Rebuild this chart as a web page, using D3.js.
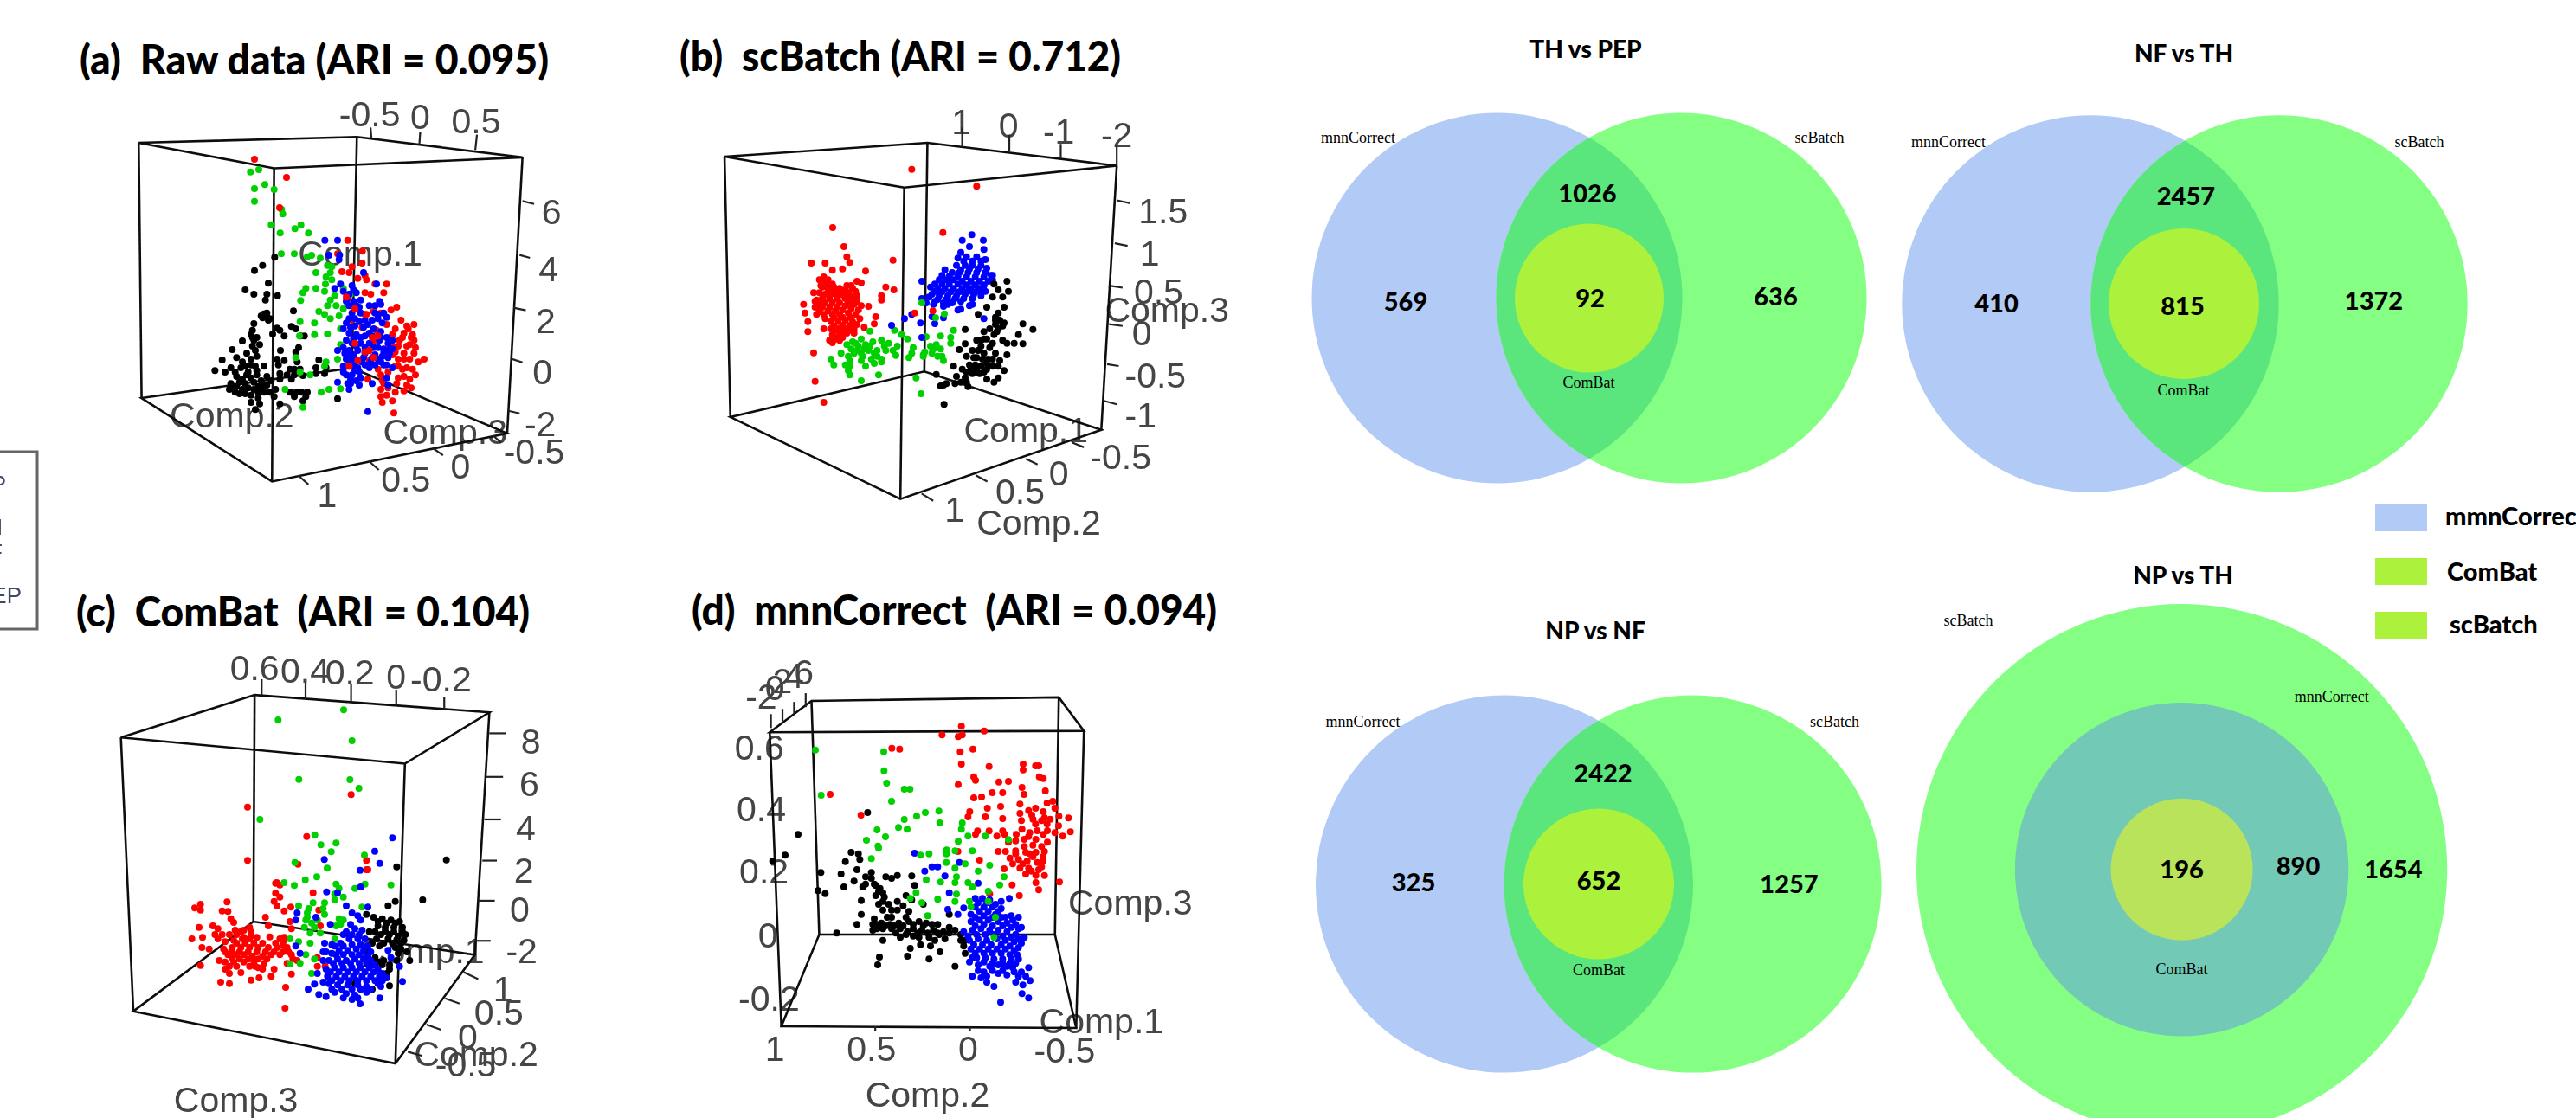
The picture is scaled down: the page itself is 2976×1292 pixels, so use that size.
<!DOCTYPE html>
<html>
<head>
<meta charset="utf-8">
<title>Batch correction panels</title>
<script src="https://cdn.jsdelivr.net/npm/d3@7"></script>
<style>
html, body { margin: 0; padding: 0; background: #fff; overflow: hidden; }
svg { display: block; }
</style>
</head>
<body>
<div id="chart"></div>
<script>
// Scatter values: projected position of each cell in its panel,
// in units of a 3x reading of the plot area (see panels below).

var rawBlack = [[232,22],[190,50],[162,68],[210,112],[130,135],[160,150],[242,155],[205,150],[200,170],[297,208],[195,218],[205,228],[210,240],[190,232],[160,252],[155,275],[155,300],[240,268],[250,275],[290,262],[305,270],[225,288],[265,295],[322,295],[335,295],[120,312],[160,310],[180,325],[315,335],[305,350],[85,342],[252,345],[170,365],[150,375],[100,370],[120,385],[50,378],[240,375],[265,380],[310,385],[385,378],[375,405],[410,405],[25,415],[60,420],[95,420],[130,400],[165,400],[195,400],[245,395],[285,410],[300,430],[330,432],[375,425],[405,425],[100,435],[135,430],[170,430],[205,435],[250,425],[80,460],[100,470],[130,460],[160,455],[185,450],[220,450],[250,445],[290,445],[75,480],[95,490],[120,480],[160,480],[190,470],[235,480],[290,490],[345,490],[150,525],[175,510],[195,490],[230,505],[250,530],[310,490],[340,505],[330,520],[180,530],[165,550],[450,512],[140,420],[170,415],[150,440],[120,445],[110,455],[175,470],[140,475],[85,470],[110,495],[150,500],[130,495],[175,490],[205,465],[215,490],[155,330],[165,345],[135,355],[150,395],[115,405],[80,405],[275,430],[300,410],[320,410],[285,490],[300,505],[325,490],[205,215],[185,225],[215,235],[150,290],[170,300]];
var rawGreen = [[148,-274],[177,-282],[162,-216],[198,-230],[230,-213],[162,-172],[256,-144],[260,-128],[220,-91],[251,-62],[302,-77],[323,-90],[349,-62],[255,10],[300,10],[345,20],[375,75],[415,50],[425,75],[408,115],[375,130],[340,130],[330,145],[322,172],[405,140],[440,155],[425,170],[415,190],[385,210],[405,220],[425,235],[455,225],[320,245],[370,250],[318,295],[370,290],[415,288],[460,270],[500,240],[460,325],[450,375],[410,385],[405,400],[305,370],[320,420],[355,430],[268,480],[393,490],[420,480],[460,478],[330,542],[470,130],[495,150],[390,25],[360,15],[430,55],[410,90],[430,100],[445,190],[470,200]];
var rawRed = [[162,-318],[273,-255],[249,-150],[485,-37],[536,1],[450,10],[500,55],[535,42],[465,72],[545,85],[520,95],[490,75],[550,100],[620,115],[580,115],[610,145],[545,145],[565,150],[485,165],[510,200],[655,195],[635,205],[575,210],[545,220],[670,240],[600,215],[715,255],[690,260],[620,255],[650,270],[640,290],[680,285],[710,290],[715,310],[665,310],[640,330],[700,325],[650,350],[680,355],[715,355],[630,360],[660,375],[700,375],[750,375],[730,385],[650,400],[690,405],[720,430],[680,435],[660,440],[700,445],[510,320],[560,345],[545,350],[560,380],[520,380],[590,410],[600,430],[555,445],[490,400],[605,450],[600,480],[625,475],[600,505],[605,525],[640,520],[650,490],[680,485],[705,475],[645,562],[500,240],[535,265],[575,315],[585,275],[695,270],[705,300],[690,330],[660,330],[675,300],[720,335],[680,375],[660,400],[640,360],[625,420],[610,460],[620,500],[675,410],[710,410],[655,460],[690,465]];
var rawBlue = [[406,-37],[450,-37],[457,14],[420,15],[455,30],[540,75],[440,130],[460,115],[470,140],[500,120],[490,150],[515,145],[530,170],[585,115],[595,175],[580,190],[600,185],[560,190],[490,190],[515,190],[530,215],[545,240],[500,215],[620,230],[590,220],[605,250],[570,240],[480,250],[510,260],[540,265],[575,270],[600,280],[620,300],[640,310],[490,285],[515,290],[545,295],[570,295],[595,310],[480,310],[500,320],[530,320],[560,320],[590,335],[610,340],[630,340],[470,335],[490,345],[520,345],[540,370],[580,360],[605,365],[625,370],[450,345],[480,375],[510,375],[535,385],[565,385],[600,385],[620,395],[470,400],[495,385],[520,405],[480,430],[500,430],[515,450],[495,460],[525,465],[450,455],[490,480],[570,460],[620,440],[625,465],[640,405],[555,557],[560,405],[505,135],[480,175],[505,175],[525,195],[510,235],[490,235],[470,270],[495,265],[525,245],[555,255],[590,235],[610,215],[580,215],[560,285],[530,300],[505,305],[515,330],[545,335],[575,335],[600,300],[625,320],[640,340],[630,355],[610,350],[590,375],[570,370],[545,355],[505,360],[490,365],[475,355],[505,395],[525,420],[545,395],[580,395],[610,395],[495,445],[510,415],[470,420],[485,460],[530,440]];
var rawRedTop = [[480,160],[510,320],[560,345],[545,350],[570,300],[520,380],[575,370],[590,295],[550,220],[510,200],[490,400]];

var scBatchRed = [[400,-253],[625,-194],[126,-51],[508,-34],[165,15],[175,50],[185,70],[52,72],[100,72],[125,97],[160,92],[240,100],[335,62],[95,120],[80,130],[110,130],[125,145],[210,135],[225,140],[175,150],[190,150],[60,175],[90,155],[110,165],[130,170],[155,170],[180,175],[205,170],[310,155],[338,165],[295,185],[295,200],[70,200],[90,195],[115,195],[140,195],[170,195],[195,195],[25,215],[65,225],[90,225],[115,225],[140,225],[170,220],[200,215],[225,220],[250,222],[30,245],[70,250],[95,250],[125,250],[150,250],[180,245],[205,250],[275,258],[40,275],[120,275],[145,275],[170,270],[195,275],[220,265],[270,283],[40,310],[95,300],[120,300],[145,300],[175,300],[200,300],[235,295],[125,320],[150,320],[175,315],[200,315],[125,348],[150,340],[160,330],[60,383],[65,482],[95,555],[100,140],[85,150],[110,150],[130,155],[150,160],[170,165],[195,160],[80,175],[100,180],[120,180],[140,180],[160,182],[185,185],[210,185],[80,210],[100,210],[125,210],[150,210],[180,210],[210,205],[80,240],[110,238],[135,238],[160,235],[190,230],[215,235],[100,265],[130,262],[160,260],[185,260],[130,290],[160,288],[185,288],[210,285],[135,305],[165,308],[190,305],[135,335],[115,340],[140,330],[65,205],[75,225]];
var scBatchGreen = [[255,308],[340,305],[365,320],[385,335],[545,305],[500,325],[535,330],[450,328],[195,345],[225,335],[175,355],[190,370],[215,360],[240,355],[265,345],[295,340],[320,350],[350,360],[405,365],[535,350],[485,355],[465,360],[155,385],[200,385],[225,385],[250,375],[280,375],[310,375],[400,385],[445,380],[470,385],[500,370],[120,405],[185,410],[230,395],[260,405],[295,405],[345,392],[390,400],[440,395],[505,395],[130,425],[170,425],[240,430],[270,420],[295,415],[510,410],[180,445],[185,460],[285,460],[225,480],[415,470],[432,525],[210,375],[235,370],[255,360],[270,385],[305,360],[335,375],[205,350],[225,410],[280,395],[180,395],[185,430],[475,370],[490,395],[440,390]];
var scBatchBlue = [[608,-26],[575,-7],[648,-7],[570,35],[600,15],[650,25],[560,55],[590,50],[625,50],[655,60],[555,80],[585,80],[610,80],[640,80],[515,95],[505,115],[540,105],[565,105],[595,105],[625,105],[655,105],[675,115],[435,135],[495,130],[520,130],[545,130],[575,135],[605,135],[635,135],[665,135],[680,130],[465,155],[490,160],[515,160],[545,160],[575,160],[605,160],[635,160],[655,170],[470,180],[495,185],[525,185],[555,185],[585,180],[615,180],[640,185],[435,195],[450,210],[480,205],[510,210],[540,205],[570,205],[600,220],[610,215],[560,235],[570,232],[375,265],[400,250],[430,280],[470,258],[510,262],[480,282],[650,265],[330,288],[435,330],[580,65],[610,65],[640,65],[570,95],[600,92],[630,92],[660,90],[530,118],[560,118],[590,120],[620,120],[650,120],[680,115],[480,145],[505,145],[530,145],[560,145],[590,148],[620,148],[650,148],[480,170],[505,172],[535,172],[565,172],[595,170],[625,170],[650,150],[460,190],[490,198],[520,198],[550,195],[580,195],[610,195],[635,170],[475,215],[510,222],[525,215],[540,210]];
var scBatchBlack = [[685,145],[730,135],[735,170],[700,165],[715,190],[680,190],[660,225],[630,250],[720,225],[700,245],[690,260],[585,302],[650,310],[690,285],[715,290],[785,283],[820,302],[770,320],[625,340],[660,335],[695,310],[715,340],[585,352],[640,360],[680,350],[730,350],[755,350],[785,352],[565,372],[610,375],[650,385],[690,385],[730,390],[590,395],[625,400],[665,405],[705,410],[545,430],[600,425],[640,430],[680,430],[720,445],[610,455],[650,450],[700,470],[485,458],[555,465],[585,470],[660,475],[685,485],[510,495],[550,490],[595,500],[500,498],[512,562],[670,300],[690,270],[705,270],[720,280],[700,300],[685,320],[650,335],[670,365],[640,340],[630,375],[615,400],[645,405],[680,405],[660,420],[620,425],[590,450],[635,455],[625,440],[605,435],[575,440],[660,440],[700,430],[570,485],[590,485],[520,490]];
var scBatchTop = [[410,245],[473,238]];
var scBatchTopGreen = [[435,210],[483,262],[513,248]];

var combatRed = [[587,-245],[228,-202],[228,-17],[433,-100],[403,-4],[640,-17],[640,15],[329,60],[45,148],[65,135],[65,155],[157,127],[140,158],[160,160],[170,185],[180,198],[325,62],[340,68],[325,97],[340,110],[320,125],[330,140],[355,158],[378,145],[455,95],[290,180],[300,210],[375,195],[380,220],[60,215],[108,210],[125,220],[115,240],[140,240],[165,240],[190,240],[215,225],[240,230],[35,255],[72,250],[125,255],[150,265],[180,260],[210,255],[235,255],[260,250],[305,248],[355,260],[70,285],[95,290],[145,290],[175,285],[205,285],[235,285],[265,285],[300,285],[330,285],[365,285],[160,310],[190,310],[215,310],[245,315],[280,315],[310,310],[340,310],[380,310],[400,330],[65,347],[150,335],[180,335],[215,335],[250,335],[285,340],[365,340],[150,360],[165,375],[205,372],[265,355],[320,360],[310,385],[380,377],[135,405],[165,410],[240,398],[268,390],[360,423],[358,495],[470,350],[497,350],[475,155],[470,320],[480,210],[645,15],[190,270],[220,270],[250,270],[280,270],[175,300],[200,300],[230,300],[260,300],[290,300],[320,300],[350,300],[215,250],[240,245],[185,225],[235,215],[205,230],[175,320],[200,325],[230,325],[265,325],[295,325],[325,270],[350,275],[340,255],[355,250],[370,300],[385,325],[130,330],[150,300],[165,350],[190,350],[235,350],[255,350],[280,360]];
var combatGreen = [[334,-504],[561,-539],[590,-432],[406,-298],[583,-297],[614,-267],[271,-159],[461,-105],[482,-71],[535,-77],[518,-47],[392,-10],[633,-35],[355,60],[390,70],[428,50],[468,40],[504,10],[535,65],[545,80],[600,80],[635,65],[725,68],[530,120],[495,130],[560,110],[455,130],[405,140],[435,165],[495,170],[430,190],[545,185],[460,215],[425,215],[445,235],[480,235],[550,205],[375,255],[405,265],[445,270],[530,255],[430,310],[410,340],[375,342],[450,375],[520,305],[460,325],[625,145],[440,150],[470,190],[450,200],[435,180],[490,150],[530,100],[535,210],[560,190]];
var combatBlue = [[730,-95],[669,-49],[686,-7],[494,-20],[502,92],[540,95],[620,75],[618,17],[400,165],[395,190],[465,180],[570,140],[590,165],[645,145],[610,175],[515,205],[585,205],[620,190],[600,220],[625,225],[570,230],[495,270],[520,275],[550,270],[580,255],[610,255],[635,255],[395,280],[410,305],[490,300],[520,305],[545,295],[575,295],[605,290],[630,295],[655,300],[510,330],[540,325],[570,330],[600,325],[630,325],[655,330],[715,295],[725,320],[755,350],[470,375],[500,360],[530,355],[560,355],[590,355],[620,355],[650,355],[680,360],[505,385],[535,385],[565,385],[595,385],[625,385],[655,385],[685,385],[710,390],[765,403],[460,412],[510,410],[540,415],[575,415],[610,415],[640,420],[680,410],[690,420],[438,430],[475,448],[500,455],[530,440],[570,445],[600,450],[640,440],[686,460],[618,480],[560,240],[590,240],[615,240],[530,280],[560,280],[590,275],[620,275],[645,280],[535,310],[560,310],[590,310],[615,310],[645,315],[525,340],[555,340],[585,340],[615,340],[645,340],[670,345],[515,370],[545,370],[575,370],[605,370],[635,370],[665,370],[695,375],[520,400],[550,400],[580,400],[610,400],[640,400],[670,400],[695,400],[520,430],[555,430],[590,430],[620,430],[655,430],[560,460],[590,465],[610,460],[500,300],[490,330],[490,405]];
var combatBlack = [[917,-19],[745,5],[715,140],[740,125],[835,120],[640,170],[665,180],[695,185],[725,190],[755,195],[680,210],[705,215],[735,215],[765,215],[775,240],[650,230],[690,240],[720,240],[750,245],[660,270],[700,270],[730,270],[760,270],[640,300],[670,320],[750,305],[790,330],[780,300],[665,345],[695,345],[720,360],[710,375],[660,430],[720,418],[600,410],[640,340],[680,195],[710,200],[740,200],[670,230],[705,228],[735,230],[765,230],[675,255],[715,255],[745,258],[770,260],[685,280],[740,285],[760,290],[700,330],[680,335],[720,345],[745,330]];

var mnnRed = [[57,-186],[164,-114],[512,-422],[445,-392],[501,-386],[515,-392],[591,-406],[271,-346],[298,-343],[508,-334],[552,-343],[512,-291],[608,-283],[726,-291],[726,-271],[769,-285],[780,-285],[501,-220],[555,-247],[561,-235],[782,-247],[796,-241],[642,-229],[675,-231],[722,-210],[555,-174],[582,-177],[619,-192],[655,-192],[729,-186],[803,-198],[829,-162],[541,-126],[602,-138],[648,-144],[715,-152],[769,-138],[809,-156],[535,-108],[595,-108],[655,-102],[715,-120],[756,-114],[796,-126],[836,-138],[883,-104],[568,-59],[608,-59],[655,-59],[722,-65],[769,-83],[809,-83],[849,-77],[561,-47],[635,-41],[662,-47],[702,-47],[749,-53],[796,-47],[836,-53],[890,-56],[863,-41],[640,12],[665,12],[700,10],[735,15],[800,12],[680,35],[710,40],[740,45],[795,45],[575,42],[660,72],[715,70],[745,70],[790,65],[735,90],[770,95],[800,95],[688,128],[770,120],[780,145],[713,165],[852,118],[500,12],[610,160],[760,30],[775,50],[690,55],[725,55],[755,80],[780,75],[700,20],[770,15],[795,30],[750,20],[720,-95],[760,-100],[790,-95],[820,-100],[745,-40],[775,-60],[810,-60],[730,-30],[770,-30],[810,-20],[760,-10],[790,-5],[730,-5],[700,-25],[675,-20],[850,-110],[800,-105],[745,-130]];
var mnnGreen = [[6,-340],[243,-334],[244,-268],[253,-225],[314,-204],[334,-204],[270,-162],[26,-183],[387,-123],[357,-110],[434,-128],[437,-87],[314,-99],[294,-71],[324,-65],[220,-63],[249,-39],[183,-27],[223,-7],[515,-87],[512,-65],[535,-41],[595,-41],[675,-29],[461,7],[501,-23],[200,37],[225,0],[370,25],[400,20],[460,20],[490,10],[550,10],[610,60],[460,50],[525,55],[570,80],[490,70],[495,100],[660,100],[645,128],[390,110],[440,118],[490,120],[535,120],[550,135],[605,150],[355,155],[495,160],[335,175],[375,190],[430,178],[490,185],[605,185],[540,185],[395,235],[545,205],[625,310],[630,240]];
var mnnBlue = [[350,18],[385,80],[410,65],[430,65],[455,97],[505,50],[570,122],[470,155],[678,175],[465,213],[500,230],[520,208],[545,230],[560,175],[585,175],[610,180],[650,185],[560,205],[590,205],[620,205],[650,210],[630,230],[685,235],[710,240],[545,255],[575,250],[605,250],[640,255],[670,260],[700,265],[720,275],[520,290],[550,285],[580,280],[610,285],[640,285],[670,290],[700,300],[730,310],[540,320],[570,315],[600,320],[635,315],[665,320],[695,325],[720,330],[545,350],[575,350],[605,350],[635,350],[665,350],[695,355],[565,380],[595,380],[625,385],[655,385],[685,385],[710,385],[540,395],[570,405],[610,410],[640,405],[670,410],[690,415],[745,415],[550,445],[590,430],[640,435],[670,440],[720,430],[735,445],[580,450],[600,465],[625,480],[700,465],[750,460],[725,475],[722,505],[745,520],[648,535],[570,190],[600,190],[630,195],[575,220],[605,220],[640,220],[665,240],[690,250],[560,240],[590,235],[620,240],[650,240],[560,270],[590,265],[620,270],[655,270],[685,275],[710,280],[535,305],[565,300],[595,300],[625,300],[655,305],[685,310],[710,315],[555,335],[585,335],[615,335],[650,335],[680,340],[710,345],[560,365],[590,365],[620,365],[650,365],[680,370],[705,370],[550,380],[590,395],[620,400],[655,400],[680,400],[700,400],[620,425],[655,425],[695,430],[570,425],[600,445],[710,445]];
var mnnBlack = [[187,-123],[-54,-47],[-99,25],[-142,46],[130,15],[155,20],[160,40],[110,47],[150,75],[95,90],[25,85],[200,85],[180,100],[250,100],[270,105],[290,95],[340,97],[140,115],[105,135],[170,135],[210,125],[230,140],[350,130],[15,148],[40,158],[165,182],[215,165],[240,155],[240,185],[290,185],[320,165],[340,180],[380,195],[240,215],[270,215],[330,220],[165,230],[270,240],[320,240],[210,245],[150,265],[205,265],[235,260],[265,265],[295,260],[330,255],[365,255],[390,260],[430,265],[205,285],[240,280],[270,280],[300,280],[345,280],[375,285],[415,285],[450,290],[490,285],[470,295],[80,295],[240,320],[300,310],[345,305],[365,310],[420,320],[455,315],[510,320],[370,335],[405,340],[520,340],[335,348],[325,375],[438,360],[400,385],[228,378],[222,405],[490,410],[525,365],[470,230],[200,105],[215,130],[225,150],[245,170],[180,125],[260,195],[225,195],[290,215],[310,200],[255,240],[220,265],[250,270],[280,270],[310,270],[345,265],[380,270],[410,265],[220,280],[285,295],[325,290],[360,295],[395,295],[430,295],[470,275],[400,310],[435,300],[320,300],[510,300],[525,320]];

// venn values
var vennTitles = ["TH vs PEP", "NF vs TH", "NP vs NF", "NP vs TH"];
var vennLeft = [569, 410, 325, 890];
var vennMiddle = [1026, 2457, 2422, null];
var vennCore = [92, 815, 652, 196];
var vennRight = [636, 1372, 1257, 1654];
var legendNames = ["mmnCorrect", "ComBat", "scBatch"];
var legendColors = ["#B2CBF6", "#ACF23C", "#ACF23C"];
var clippedLegendNames = ["NP", "TH", "NF", "PEP"];

var RED = "#ff0000", GREEN = "#00d000", BLUE = "#0000ff", BLACK = "#000000";

// layout of the four 3D panels. "over" is the rough reading frame (1568 units across the crop),
// "read" the 3x frame the points were taken from.
var panels = [
	{
		title: "(a)  Raw data (ARI = 0.095)", titleX: [92, 634], titleY: 86,
		crop: [0, 0, 750, 660], read: [240, 290],
		top: [[335,392],[862,376],[1262,432],[662,462]],
		bottom: [[342,1093],[657,1322],[1225,1190],[850,1010]],
		ticks: [[895,350,897,378],[1015,362,1013,395],[1152,370,1148,412],[1262,552,1290,560],[1255,700,1280,708],[1240,845,1270,852],[1235,985,1262,995],[1228,1128,1255,1135],[720,1305,745,1330],[890,1265,915,1290],[1045,1230,1070,1250],[1190,1195,1210,1215]],
		labels: [["-0.5",893,313],["0",1015,320],["0.5",1150,333],["6",1332,582],["4",1325,738],["2",1318,882],["0",1310,1022],["-2",1305,1165],["1",790,1360],["0.5",980,1315],["0",1112,1280],["-0.5",1290,1240],["Comp.1",870,695],["Comp.2",560,1140],["Comp.3",1075,1185]],
		series: [[rawBlack, BLACK], [rawGreen, GREEN], [rawRed, RED], [rawBlue, BLUE], [rawRedTop, RED]]
	},
	{
		title: "(b)  scBatch (ARI = 0.712)", titleX: [785, 1295], titleY: 82,
		crop: [750, 0, 700, 660], read: [920, 280],
		top: [[195,430],[720,392],[1210,455],[660,515]],
		bottom: [[210,1145],[650,1370],[1170,1180],[712,1020]],
		ticks: [[810,350,810,403],[932,370,932,415],[1065,395,1065,435],[1210,400,1210,455],[1210,550,1245,558],[1205,668,1238,675],[1195,785,1225,790],[1190,890,1225,895],[1185,1000,1215,1005],[1175,1100,1210,1110],[705,1355,735,1375],[845,1305,875,1322],[975,1260,1005,1275],[1095,1215,1125,1228]],
		labels: [["1",808,335],["0",930,345],["-1",1060,360],["-2",1210,370],["1.5",1330,580],["1",1295,695],["0.5",1318,800],["0",1275,915],["-0.5",1310,1030],["-1",1272,1140],["1",790,1400],["0.5",960,1350],["0",1060,1300],["-0.5",1220,1255],["Comp.1",975,1180],["Comp.2",1008,1435],["Comp.3",1340,850]],
		series: [[scBatchRed, RED], [scBatchGreen, GREEN], [scBatchBlue, BLUE], [scBatchBlack, BLACK], [scBatchTopGreen, GREEN], [scBatchTop, RED]]
	},
	{
		title: "(c)  ComBat  (ARI = 0.104)", titleX: [88, 612], titleY: 724,
		crop: [0, 660, 750, 632], read: [210, 1000],
		top: [[292,477],[615,355],[1182,405],[978,552]],
		bottom: [[322,1262],[955,1412],[1147,1100],[612,1005]],
		ticks: [[632,310,632,355],[738,320,738,365],[848,325,848,375],[957,340,957,385],[1073,360,1073,395],[1182,465,1222,465],[1175,590,1215,590],[1170,712,1210,712],[1165,830,1200,830],[1155,945,1195,945],[1147,1060,1185,1060],[1120,1150,1155,1170],[1075,1225,1110,1240],[1030,1300,1065,1315],[985,1378,1020,1390]],
		labels: [["0.6",615,278],["0.4",737,285],["0.2",845,290],["0",957,303],["-0.2",1065,310],["8",1282,488],["6",1278,610],["4",1270,738],["2",1265,858],["0",1255,970],["-2",1260,1090],["1",1215,1198],["0.5",1205,1265],["0",1130,1335],["-0.5",1125,1415],["Comp.1",1020,1090],["Comp.2",1150,1385],["Comp.3",570,1515]],
		series: [[combatRed, RED], [combatGreen, GREEN], [combatBlack, BLACK], [combatBlue, BLUE]]
	},
	{
		title: "(d)  mnnCorrect  (ARI = 0.094)", titleX: [799, 1406], titleY: 722,
		crop: [750, 660, 700, 632], read: [940, 980],
		top: [[312,462],[420,372],[1060,362],[1125,458]],
		bottom: [[342,1305],[1105,1310],[1050,1042],[440,1042]],
		ticks: [[315,410,315,450],[345,395,345,430],[375,375,375,410],[405,350,405,390],[585,1305,585,1320],[830,1305,830,1320],[1085,1305,1085,1320]],
		labels: [["-2",290,360],["0",325,335],["2",345,315],["4",375,300],["6",400,290],["0.6",285,505],["0.4",290,682],["0.2",297,862],["0",307,1045],["-0.2",310,1225],["1",325,1370],["0.5",575,1370],["0",825,1370],["-0.5",1075,1375],["Comp.1",1170,1290],["Comp.2",720,1500],["Comp.3",1245,950]],
		series: [[mnnBlack, BLACK], [mnnRed, RED], [mnnBlue, BLUE], [mnnGreen, GREEN]]
	}
];

// layout of the venns: circles as [cx, cy, r]
var venns = [
	{ a: [1729.5,344.6,214], b: [1942.5,344.6,214], c: [1836,344.6,86], titleAt: [1832,67],
	  at: [[1624,359],[1834,233.6],[1837,355],[2051.5,352.7]],
	  names: [["mnnCorrect",1569,165.4],["scBatch",2102,165.4],["ComBat",1835.4,448]] },
	{ a: [2415,351,217.7], b: [2633,351,217.7], c: [2523,351,87], titleAt: [2523,71.5],
	  at: [[2306.5,361],[2525.4,236.5],[2521.5,364],[2742.5,357.7]],
	  names: [["mnnCorrect",2251,169.6],["scBatch",2795,169.6],["ComBat",2522.5,456.6]] },
	{ a: [1738,1021.6,218], b: [1955.6,1021.6,218], c: [1847,1021.6,87], titleAt: [1843,739],
	  at: [[1633,1030],[1852,904],[1847,1027.5],[2067,1031.7]],
	  names: [["mnnCorrect",1574.6,839.6],["scBatch",2119.6,839.6],["ComBat",1847,1127]] },
	{ nested: true, a: [2520.6,1004.7,306.6], b: [2520.6,1004.7,192.7], c: [2520.6,1004.7,82], titleAt: [2522,675],
	  at: [[2655,1011],null,[2520.6,1015],[2765,1015]],
	  names: [["mnnCorrect",2693.8,810.5],["scBatch",2274,723],["ComBat",2520.6,1125.7]] }
];

var svg = d3.select("#chart").append("svg")
	.attr("width", 2976)
	.attr("height", 1292)
	.style("background", "#fff");

var defs = svg.append("defs");
defs.append("filter").attr("id", "soft")
	.append("feGaussianBlur").attr("stdDeviation", 0.7);
defs.append("filter").attr("id", "softer")
	.append("feGaussianBlur").attr("stdDeviation", 0.4);

function drawPanel(p) {
	// rough frame for box and labels, 3x frame for the cells
	var overX = d3.scaleLinear().domain([0, 1568]).range([p.crop[0], p.crop[0] + p.crop[2]]);
	var overY = d3.scaleLinear().domain([0, 1568]).range([p.crop[1], p.crop[1] + p.crop[3]]);
	var readX = d3.scaleLinear().domain([0, 3]).range([p.read[0], p.read[0] + 1]);
	var readY = d3.scaleLinear().domain([0, 3]).range([p.read[1], p.read[1] + 1]);

	svg.append("g").attr("filter", "url(#softer)").selectAll(".axis-text")
		.data(p.labels)
		.enter().append("text")
		.attr("x", function(d) { return overX(d[1]); })
		.attr("y", function(d) { return overY(d[2]); })
		.attr("text-anchor", "middle")
		.attr("dominant-baseline", "central")
		.style("font-family", "'Liberation Sans', Arial, sans-serif")
		.style("font-size", "41px")
		.style("fill", "#444")
		.text(function(d) { return d[0]; });

	var g = svg.append("g").attr("filter", "url(#soft)");

	var edge = d3.line()
		.x(function(d) { return overX(d[0]); })
		.y(function(d) { return overY(d[1]); })
		.curve(d3.curveLinearClosed);

	g.selectAll(".face")
		.data([p.top, p.bottom])
		.enter().append("path")
		.attr("d", edge)
		.style("fill", "none")
		.style("stroke", "#111")
		.style("stroke-width", 2.6);

	g.selectAll(".upright")
		.data(d3.range(4))
		.enter().append("line")
		.attr("x1", function(i) { return overX(p.top[i][0]); })
		.attr("y1", function(i) { return overY(p.top[i][1]); })
		.attr("x2", function(i) { return overX(uprightEnd(p, i)[0]); })
		.attr("y2", function(i) { return overY(uprightEnd(p, i)[1]); })
		.style("stroke", "#111")
		.style("stroke-width", 2.6);

	g.selectAll(".tick-mark")
		.data(p.ticks)
		.enter().append("line")
		.attr("x1", function(d) { return overX(d[0]); })
		.attr("y1", function(d) { return overY(d[1]); })
		.attr("x2", function(d) { return overX(d[2]); })
		.attr("y2", function(d) { return overY(d[3]); })
		.style("stroke", "#222")
		.style("stroke-width", 2.2);

	p.series.forEach(function(s) {
		g.append("g").selectAll("circle")
			.data(s[0])
			.enter().append("circle")
			.attr("cx", function(d) { return readX(d[0]); })
			.attr("cy", function(d) { return readY(d[1]); })
			.attr("r", 4)
			.style("fill", s[1]);
	});

	svg.append("text")
		.attr("x", p.titleX[0])
		.attr("y", p.titleY)
		.attr("textLength", p.titleX[1] - p.titleX[0])
		.attr("lengthAdjust", "spacingAndGlyphs")
		.style("font-family", "Lato, 'Open Sans', sans-serif")
		.style("font-weight", 900)
		.style("font-size", "47px")
		.style("white-space", "pre")
		.style("fill", "#000")
		.text(p.title);
}

// which bottom corner sits under each top corner
function uprightEnd(p, i) {
	var pairs = { 0: 0, 1: 3, 2: 2, 3: 1 };
	return p.bottom[pairs[i]];
}

function drawVenn(v, i) {
	var g = svg.append("g");
	var circle = function(c, fill) {
		return g.append("circle")
			.attr("cx", c[0]).attr("cy", c[1]).attr("r", c[2])
			.style("fill", fill);
	};

	if (v.nested) {
		circle(v.a, "#84FF84");
		circle(v.b, "#72C9B5");
		circle(v.c, "#B9E35A");
	} else {
		circle(v.a, "#B2CBF6");
		circle(v.b, "#84FF84");
		var id = "lens" + i;
		defs.append("clipPath").attr("id", id).append("circle")
			.attr("cx", v.a[0]).attr("cy", v.a[1]).attr("r", v.a[2]);
		circle(v.b, "#5AE67C").attr("clip-path", "url(#" + id + ")");
		circle(v.c, "#ACF23C");
	}

	svg.append("text")
		.attr("x", v.titleAt[0]).attr("y", v.titleAt[1])
		.attr("text-anchor", "middle")
		.style("font-family", "Lato, sans-serif")
		.style("font-weight", 900)
		.style("font-size", "28px")
		.text(vennTitles[i]);

	var counts = [vennLeft[i], vennMiddle[i], vennCore[i], vennRight[i]];
	counts.forEach(function(n, k) {
		if (n === null) { return; }
		svg.append("text")
			.attr("x", v.at[k][0]).attr("y", v.at[k][1])
			.attr("text-anchor", "middle")
			.style("font-family", "Lato, sans-serif")
			.style("font-weight", 900)
			.style("font-size", "29px")
			.text(n);
	});

	svg.selectAll(null)
		.data(v.names)
		.enter().append("text")
		.attr("x", function(d) { return d[1]; })
		.attr("y", function(d) { return d[2]; })
		.attr("text-anchor", "middle")
		.style("font-family", "'Liberation Serif', serif")
		.style("font-size", "18px")
		.text(function(d) { return d[0]; });
}

panels.forEach(drawPanel);
venns.forEach(drawVenn);

// clipped group legend on the left edge
var clipped = svg.append("g").attr("filter", "url(#soft)");
clipped.append("path")
	.attr("d", "M-5,522H43V727H-5")
	.style("fill", "none")
	.style("stroke", "#666")
	.style("stroke-width", 3);
var clippedEnds = [7, 3, 3, 25];
var clippedY = [568, 618, 647, 697];
clipped.selectAll("text")
	.data(clippedLegendNames)
	.enter().append("text")
	.attr("x", function(d, i) { return clippedEnds[i]; })
	.attr("y", function(d, i) { return clippedY[i]; })
	.attr("text-anchor", "end")
	.style("font-family", "'Liberation Sans', sans-serif")
	.style("font-size", "26px")
	.style("fill", "#3d4866")
	.text(function(d) { return d; });

// method legend on the right
var legendY = d3.scalePoint().domain(legendNames).range([583, 707]);
var legendTextX = [2825, 2827, 2830];
var legendTextY = [607, 671, 732];
var legend = svg.append("g");
legend.selectAll("rect")
	.data(legendNames)
	.enter().append("rect")
	.attr("x", 2744)
	.attr("y", function(d) { return legendY(d); })
	.attr("width", 60)
	.attr("height", 31)
	.style("fill", function(d, i) { return legendColors[i]; });
legend.selectAll("text")
	.data(legendNames)
	.enter().append("text")
	.attr("x", function(d, i) { return legendTextX[i]; })
	.attr("y", function(d, i) { return legendTextY[i]; })
	.style("font-family", "Lato, sans-serif")
	.style("font-weight", 900)
	.style("font-size", "29px")
	.text(function(d) { return d; });
</script>
</body>
</html>
